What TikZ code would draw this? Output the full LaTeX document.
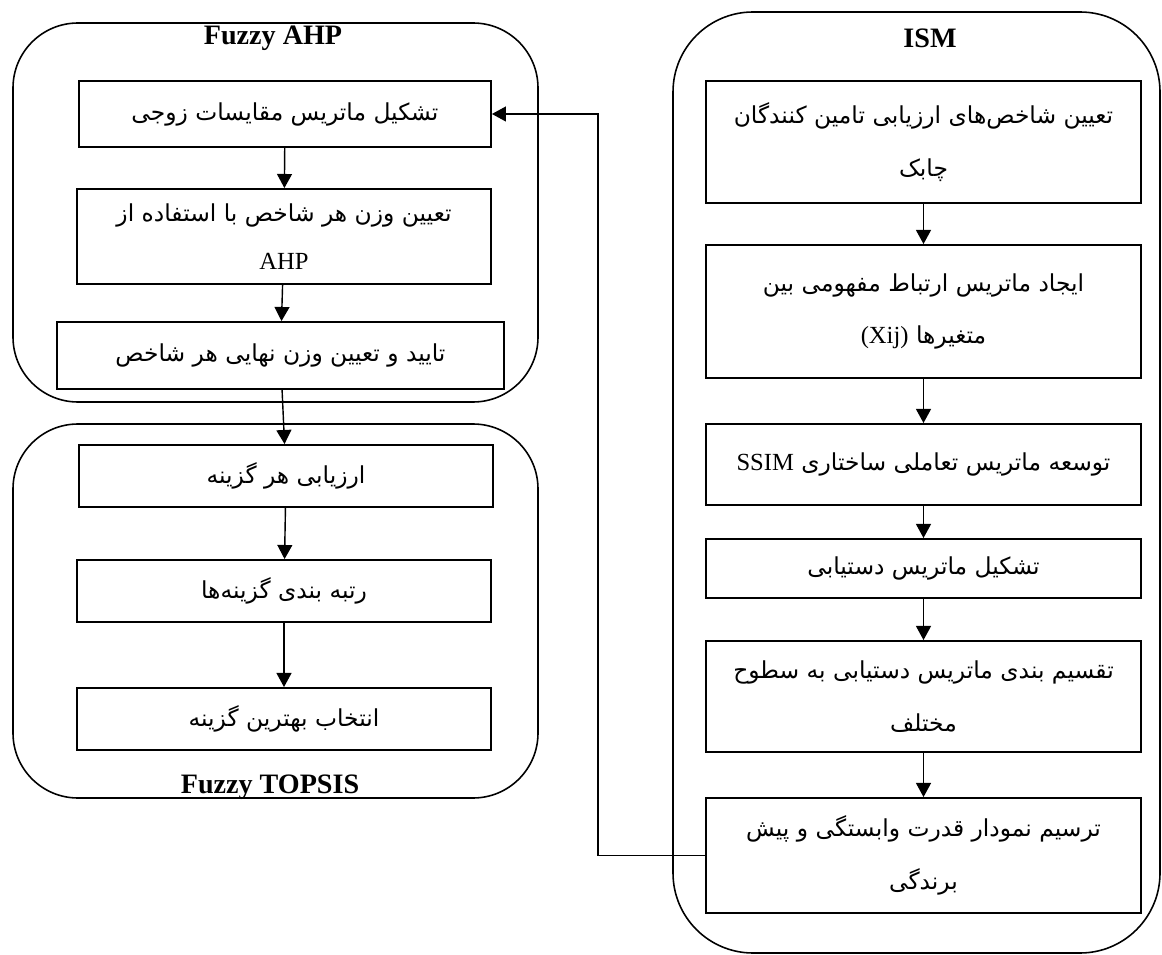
\documentclass[tikz,border=0pt]{standalone}
\usepackage{fontspec}
\setmainfont{Liberation Serif}
\newfontfamily\fafont[Script=Arabic]{DejaVu Sans}
\TeXXeTstate=1
\usetikzlibrary{arrows.meta}
\newcommand\fa[1]{\beginR#1\endR}
\newcommand\la[1]{\beginL{\rmfamily\fontsize{14}{30}\selectfont #1}\endL}

\begin{document}
\begin{tikzpicture}
[x=0.02cm, y=-0.02cm, line width=.8pt, >={Triangle[length=8pt,width=8.5pt]},
 stepbox/.style 2 args={draw, line width=1.1pt, fill=white, align=center, minimum width=#1, minimum height=#2,
   inner sep=2pt, font=\fafont\fontsize{13.3}{30}\selectfont},
 group/.style={rounded corners=#1, line width=.9pt},
 title/.style={font=\bfseries\fontsize{16}{18}\selectfont}]
\useasboundingbox (0,0) rectangle (1162,955);

% containers
\draw[group=1.3cm] (13,23) rectangle (538,402);
\draw[group=1.3cm] (13,424) rectangle (538,798);
\draw[group=1.6cm] (673,12) rectangle (1160,953);
\node[title] (ahpT) at (273,38) {Fuzzy AHP};
\node[title] (topT) at (270,787) {Fuzzy TOPSIS};
\node[title] (ismT) at (930,38) {ISM};

% Fuzzy AHP
\node[stepbox={8.24cm}{1.32cm}] (A1) at (285,114) {\fa{تشکیل ماتریس مقایسات زوجی}};
\node[stepbox={8.28cm}{1.9cm}] (A2) at (284,236.5) {\fa{تعیین وزن هر شاخص با استفاده از}\\[-3pt]{\rmfamily\fontsize{14}{30}\selectfont AHP}};
\node[stepbox={8.94cm}{1.34cm}] (A3) at (280.5,355.5) {\fa{تایید و تعیین وزن نهایی هر شاخص}};

% Fuzzy TOPSIS
\node[stepbox={8.28cm}{1.24cm}] (B1) at (286,476) {\fa{ارزیابی هر گزینه}};
\node[stepbox={8.28cm}{1.24cm}] (B2) at (284,591) {\fa{رتبه بندی گزینه‌ها}};
\node[stepbox={8.28cm}{1.24cm}] (B3) at (284,719) {\fa{انتخاب بهترین گزینه}};

% ISM
\node[stepbox={8.7cm}{2.44cm}] (C1) at (923.5,142) {\fa{تعیین شاخص‌های ارزیابی تامین کنندگان}\\\fa{چابک}};
\node[stepbox={8.7cm}{2.66cm}] (C2) at (923.5,311.5) {\fa{ایجاد ماتریس ارتباط مفهومی بین}\\\fa{متغیرها \la{(Xij)}}};
\node[stepbox={8.7cm}{1.62cm}] (C3) at (923.5,464.5) {\fa{توسعه ماتریس تعاملی ساختاری \la{SSIM}}};
\node[stepbox={8.7cm}{1.18cm}] (C4) at (923.5,568.5) {\fa{تشکیل ماتریس دستیابی}};
\node[stepbox={8.7cm}{2.22cm}] (C5) at (923.5,696.5) {\fa{تقسیم بندی ماتریس دستیابی به سطوح}\\\fa{مختلف}};
\node[stepbox={8.7cm}{2.3cm}] (C6) at (923.5,855.5) {\fa{ترسیم نمودار قدرت وابستگی و پیش}\\\fa{برندگی}};

\draw[->] (A1) -- (A2);
\draw[->] (A2) -- (A3);
\draw[->] (A3) -- (B1);
\draw[->] (B1) -- (B2);
\draw[->] (B2) -- (B3);
\draw[->] (C1) -- (C2);
\draw[->] (C2) -- (C3);
\draw[->] (C3) -- (C4);
\draw[->] (C4) -- (C5);
\draw[->] (C5) -- (C6);

% feedback
\coordinate (fb) at (598,855.5);
\draw[->] (C6.west) -- (fb) |- (A1.east);
\end{tikzpicture}
\end{document}
